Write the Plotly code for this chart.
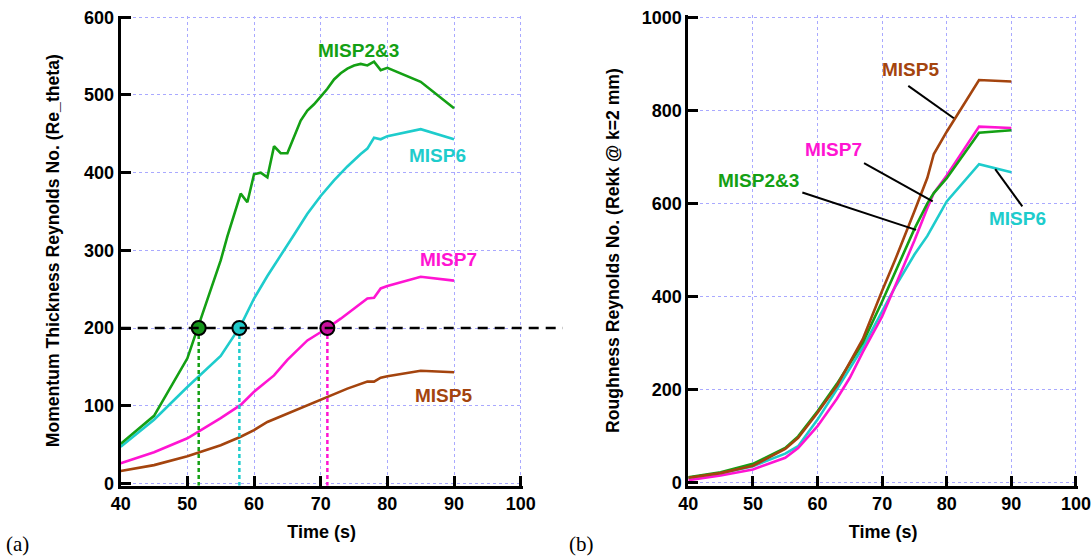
import plotly.graph_objects as go

# ---- Panel (a): momentum thickness Reynolds number vs time ----
t_a_misp23 = [40, 45, 50, 55, 56, 57, 58, 59, 60, 61, 62, 63, 64, 65, 66, 67, 68, 69, 70,
              71, 72, 73, 74, 75, 76, 77, 78, 79, 80, 85, 90]
re_a_misp23 = [51, 87, 161, 287, 318, 345, 373, 362, 398, 400, 394, 434, 425, 425, 446, 467, 480, 488, 498,
               508, 520, 528, 534, 538, 540, 538, 543, 532, 535, 517, 483]

t_a_misp6 = [40, 45, 50, 55, 58, 60, 62, 64, 66, 68, 70, 72, 74, 76, 77, 78, 79, 80, 85, 90]
re_a_misp6 = [47, 82, 124, 164, 203, 238, 267, 293, 320, 347, 370, 390, 408, 424, 431, 445, 443, 447, 456, 443]

t_a_misp7 = [40, 45, 50, 55, 58, 60, 63, 65, 68, 71, 73, 75, 77, 78, 79, 80, 85, 90]
re_a_misp7 = [26, 40, 58, 84, 101, 118, 139, 159, 184, 200, 212, 225, 238, 239, 251, 254, 266, 261]

t_a_misp5 = [40, 45, 50, 55, 58, 60, 62, 65, 68, 71, 74, 77, 78, 79, 80, 85, 90]
re_a_misp5 = [16, 23.5, 35, 49, 60, 68.6, 79, 90, 101, 111.5, 122, 131, 131, 136, 138, 145, 143]

# transition threshold and the times each case crosses it
re_threshold = 200
cross_times = [51.7, 57.8, 71.0]

# ---- Panel (b): roughness Reynolds number vs time ----
t_b = [40, 45, 50, 55, 57, 60, 63, 65, 67, 70, 72, 75, 77, 78, 80, 85, 90]
rekk_misp5 = [10, 20, 36, 72, 96, 150, 208, 258, 308, 412, 478, 583, 655, 706, 754, 865, 862]
rekk_misp23 = [11, 22, 40, 74, 99, 153, 212, 255, 300, 389, 451, 545, 600, 622, 654, 752, 757]
rekk_misp7 = [5, 15, 28, 53, 74, 121, 180, 225, 280, 357, 422, 520, 590, 622, 660, 765, 762]
rekk_misp6 = [10, 20, 35, 62, 78, 135, 200, 245, 290, 368, 420, 490, 530, 555, 604, 684, 667]

x_ticks = [40, 50, 60, 70, 80, 90, 100]
y_ticks_a = [0, 100, 200, 300, 400, 500, 600]
y_ticks_b = [0, 200, 400, 600, 800, 1000]

GREEN = "#14a014"
CYAN = "#1ecccc"
MAGENTA = "#ff14d2"
BROWN = "#a4440e"
GREEN_DOT = "#15951a"
CYAN_DOT = "#20c8c8"
MAGENTA_DOT = "#c8109e"

FONT = "Liberation Sans, Arial, sans-serif"
LW = 2.6

fig = go.Figure()

def line(x, y, color, xa, ya):
    fig.add_trace(go.Scatter(x=x, y=y, mode="lines", line=dict(color=color, width=LW),
                             xaxis=xa, yaxis=ya, showlegend=False, hoverinfo="skip"))

# panel (a) curves
line(t_a_misp5, re_a_misp5, BROWN, "x", "y")
line(t_a_misp7, re_a_misp7, MAGENTA, "x", "y")
line(t_a_misp6, re_a_misp6, CYAN, "x", "y")
line(t_a_misp23, re_a_misp23, GREEN, "x", "y")

# dotted drop lines from threshold crossings to the time axis
for t, c in zip(cross_times, [GREEN, CYAN, MAGENTA]):
    fig.add_trace(go.Scatter(x=[t, t], y=[re_threshold, -3], mode="lines",
                             line=dict(color=c, width=2.5, dash="4px,3px"),
                             xaxis="x", yaxis="y", showlegend=False, hoverinfo="skip"))

# panel (b) curves
line(t_b, rekk_misp6, CYAN, "x2", "y2")
line(t_b, rekk_misp7, MAGENTA, "x2", "y2")
line(t_b, rekk_misp23, GREEN, "x2", "y2")
line(t_b, rekk_misp5, BROWN, "x2", "y2")

# threshold crossing markers
fig.add_trace(go.Scatter(x=cross_times, y=[re_threshold] * 3, mode="markers",
                         marker=dict(size=14, color=[GREEN_DOT, CYAN_DOT, MAGENTA_DOT],
                                     line=dict(color="black", width=2)),
                         cliponaxis=False, xaxis="x", yaxis="y",
                         showlegend=False, hoverinfo="skip"))

shapes = [
    # dashed threshold line, running past the right end of the axis
    dict(type="line", xref="x domain", yref="y", x0=0, x1=1.1, y0=re_threshold, y1=re_threshold,
         line=dict(color="black", width=2.5, dash="10px,7px"), layer="above"),
]

# leader lines for panel (b) labels
leaders = [
    ((74.05, 852.6), (81.1, 783)),
    ((67.2, 686.6), (77.83, 604)),
    ((57.65, 623.4), (75.25, 543)),
    ((87.5, 673.7), (91.7, 593.3)),
]
for (x0, y0), (x1, y1) in leaders:
    shapes.append(dict(type="line", xref="x2", yref="y2", x0=x0, y0=y0, x1=x1, y1=y1,
                       line=dict(color="black", width=2)))

def label(text, x, y, color, xa, ya):
    return dict(text=text, x=x, y=y, xref=xa, yref=ya, showarrow=False,
                font=dict(family=FONT, size=19, color=color, weight="bold"),
                xanchor="center", yanchor="middle")

annotations = [
    label("MISP2&3", 75.6, 557.7, GREEN, "x", "y"),
    label("MISP6", 87.5, 421.6, CYAN, "x", "y"),
    label("MISP7", 89.1, 288, MAGENTA, "x", "y"),
    label("MISP5", 88.4, 113.6, BROWN, "x", "y"),
    label("MISP5", 74.4, 888.5, BROWN, "x2", "y2"),
    label("MISP7", 62.4, 716.6, MAGENTA, "x2", "y2"),
    label("MISP2&3", 50.8, 648.5, GREEN, "x2", "y2"),
    label("MISP6", 91.0, 568.4, CYAN, "x2", "y2"),
    dict(text="(a)", x=17 / 1092, y=1 - 544 / 557, xref="paper", yref="paper", showarrow=False,
         font=dict(family="Liberation Serif, Times New Roman, serif", size=21, color="black"),
         xanchor="center", yanchor="middle"),
    dict(text="(b)", x=581 / 1092, y=1 - 544 / 557, xref="paper", yref="paper", showarrow=False,
         font=dict(family="Liberation Serif, Times New Roman, serif", size=21, color="black"),
         xanchor="center", yanchor="middle"),
]

tickfont = dict(family=FONT, size=18, color="black", weight="bold")
titlefont = dict(family=FONT, size=18, color="black", weight="bold")

common = dict(showline=True, linecolor="black", linewidth=3, mirror=False,
              ticks="inside", ticklen=10, tickwidth=3, tickcolor="black",
              showgrid=True, gridcolor="#a9a9ff", gridwidth=1, griddash="dot",
              zeroline=False, tickfont=tickfont, automargin=False, layer="above traces")

def xaxis(domain, anchor):
    # range runs a hair past 100 so the end tick is kept
    return dict(domain=domain, anchor=anchor, range=[40, 100.3], tickvals=x_ticks,
                title=dict(text="Time (s)", font=titlefont, standoff=13), **common)

def yaxis(domain, anchor, rng, tv, title, standoff):
    return dict(domain=domain, anchor=anchor, range=rng, tickvals=tv,
                title=dict(text=title, font=dict(family=FONT, size=17.6, color="black", weight="bold"),
                           standoff=standoff), **common)

ydom_a = [(557 - 485.7) / 557, (557 - 15.75) / 557]
ydom_b = [(557 - 485.7) / 557, (557 - 15.4) / 557]
fig.update_layout(
    template="none",
    width=1092, height=557, autosize=False,
    margin=dict(l=0, r=0, t=0, b=0),
    paper_bgcolor="white", plot_bgcolor="white",
    xaxis=xaxis([120.7 / 1092, 522.7 / 1092], "y"),
    yaxis=yaxis(ydom_a, "x", [-3, 602], y_ticks_a,
                "Momentum Thickness Reynolds No. (Re_theta)", 20),
    xaxis2=xaxis([688.3 / 1092, 1077.9 / 1092], "y2"),
    yaxis2=yaxis(ydom_b, "x2", [-7, 1004], y_ticks_b,
                 "Roughness Reynolds No. (Rekk @ k=2 mm)", 18),
    shapes=shapes,
    annotations=annotations,
)

# page without the default body margin so the figure fills the window exactly
fig.write_html("out.html", post_script="document.body.style.margin='0';")
